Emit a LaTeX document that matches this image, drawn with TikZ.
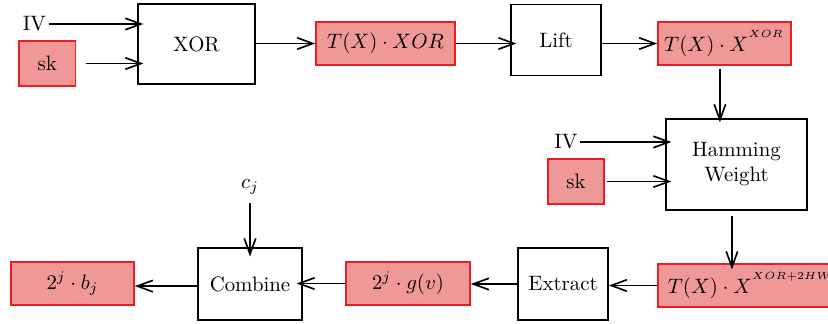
\documentclass[tikz,border=0pt]{standalone}
\usepackage{tikz}
\usepackage{xcolor}
\usetikzlibrary{positioning,arrows.meta,calc}
\definecolor{keyfill}{RGB}{240,152,152}
\definecolor{keyline}{RGB}{236,28,36}
\tikzset{
  opbox/.style={draw, thick, fill=white, align=center, inner sep=2pt},
  keybox/.style={draw=keyline, thick, fill=keyfill, align=center, minimum height=20.6pt, inner sep=2pt},
  arrow/.style={-{Straight Barb[length=7.5pt,width=5.5pt]}, thick},
  into/.style={shorten >=-3pt}
}

\begin{document}
\begin{tikzpicture}[x=0.48pt, y=-0.48pt]
    \useasboundingbox (0,0) rectangle (828,323);
    \node[opbox, minimum width=56.2pt, minimum height=38.4pt] (xor) at (196.5,44) {XOR};
    \node[keybox, minimum width=66.7pt] (txor) at (385.5,43.5) {$T(X)\cdot XOR$};
    \node[opbox, minimum width=43.2pt, minimum height=34.1pt] (lift) at (556,40) {Lift};
    \node[keybox, minimum width=63.8pt] (txx) at (724.5,43.5) {$T(X)\cdot X^{^{XOR}}$};
    \node[opbox, minimum width=67.7pt, minimum height=43.7pt] (ham) at (736.5,164.5) {Hamming\\Weight};
    \node[keybox, anchor=west, inner xsep=4.8pt] (tbig) at (657,285.5) {$T(X)\cdot X^{^{XOR+2HW}}$};
    \node[opbox, minimum width=43.2pt, minimum height=34.6pt] (extract) at (563,284) {Extract};
    \node[keybox, minimum width=59.5pt] (gv) at (408,283.5) {$2^j\cdot g(v)$};
    \node[opbox, minimum width=49.9pt, minimum height=34.6pt] (comb) at (250,284) {Combine};
    \node[keybox, minimum width=59pt] (bj) at (72.5,283.5) {$2^j\cdot b_j$};
    \node[inner sep=1pt] (iv1) at (34.5,24) {IV};
    \node[keybox, minimum width=27.2pt, minimum height=21.6pt] (sk1) at (47.3,63.5) {sk};
    \node[inner sep=1pt] (iv2) at (566,142) {IV};
    \node[keybox, minimum width=27pt, minimum height=21.6pt] (sk2) at (576,181.5) {sk};
    \node[inner sep=1pt] (cj) at (250,187) {$c_j$};
    \draw[arrow, into] (iv1.east) -- (iv1.east -| xor.west);
    \draw[arrow, into, shorten <=4.5pt] (sk1.east) -- (sk1.east -| xor.west);
    \draw[arrow] (xor.east |- txor) -- (txor.west);
    \draw[arrow, into] (txor.east) -- (txor.east -| lift.west);
    \draw[arrow] (txx.west -| lift.east) -- (txx.west);
    \draw[arrow, shorten <=1.5pt, shorten >=-2pt] ([xshift=-2.2pt]txx.south) -- ([xshift=-2.2pt]txx.south |- ham.north);
    \draw[arrow, into] (iv2.east) -- (iv2.east -| ham.west);
    \draw[arrow, into, shorten <=1pt] (sk2.east) -- (sk2.east -| ham.west);
    \draw[arrow, shorten <=2.4pt, shorten >=-3pt] ([xshift=-2.2pt]ham.south) -- ([xshift=-2.2pt]ham.south |- tbig.north);
    \draw[arrow] (tbig.west) -- (tbig.west -| extract.east);
    \draw[arrow] (extract.west) -- (extract.west -| gv.east);
    \draw[arrow, into] (gv.west) -- (gv.west -| comb.east);
    \draw[arrow] ([yshift=-1pt]comb.west) -- ([yshift=-1pt]comb.west -| bj.east);
    \draw[arrow, shorten <=3pt, shorten >=-4.5pt] (cj) -- (comb);
  \end{tikzpicture}
\end{document}
